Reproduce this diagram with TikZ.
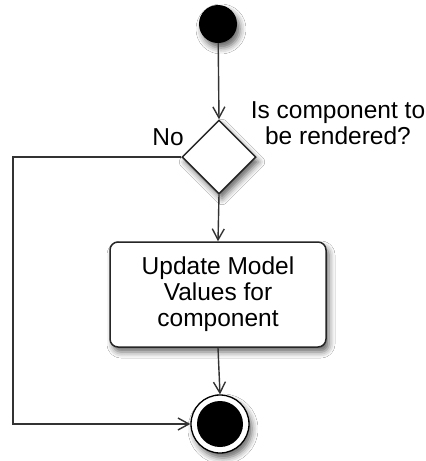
\documentclass[tikz,border=0pt]{standalone}
\usepackage{fontspec}
\setmainfont{Liberation Sans}
\usetikzlibrary{shapes.geometric,arrows.meta,shadows.blur}

\tikzset{
  outline/.style={draw=black!85, line width=1.5pt},
  conn/.style={draw=black!80, line width=1.4pt,
    -{Straight Barb[length=11pt,width=12pt,line width=1.4pt]}},
  softshadow/.style={blur shadow={shadow xshift=3pt, shadow yshift=-5pt,
    shadow blur radius=6pt, shadow opacity=60}},
  lbl/.style={font=\fontsize{24.5}{26}\selectfont, align=center, inner sep=0pt}
}

\begin{document}
\begin{tikzpicture}[x=1pt,y=1pt]
\useasboundingbox[fill=white] (0,0) rectangle (426,-461);

% initial node
\node[circle, fill=black, minimum size=38pt, inner sep=0pt, softshadow] (start) at (218,-24) {};

% decision
\node[diamond, outline, fill=white, minimum size=74pt, inner sep=0pt, softshadow] (dec) at (219,-157) {};
\node[lbl, anchor=north] (question) at (338,-101) {Is component to\\be rendered?};
\node[lbl, anchor=base east] (no) at (184,-145) {No};

% action
\node[rectangle, rounded corners=8pt, outline, fill=white, minimum width=216pt,
      minimum height=105pt, softshadow, lbl] (upd) at (218,-294.5)
      {Update Model\\Values for\\component};

% final node
\node[circle, draw=black, line width=1.3pt, fill=white, minimum size=58pt,
      inner sep=0pt, softshadow] (end) at (220,-424) {};
\node[circle, fill=black, minimum size=46pt, inner sep=0pt] (endcore) at (end.center) {};

% bypass route
\coordinate (bendtop) at (13,-157);
\coordinate (bendbot) at (13,-424);

\draw[conn] (start) -- (dec.north);
\draw[conn] (dec.south) -- (upd.north);
\draw[conn] (upd.south) -- (end.north);
\draw[conn] (dec.west) -- (bendtop) -- (bendbot) -- (end.west);
\end{tikzpicture}
\end{document}
